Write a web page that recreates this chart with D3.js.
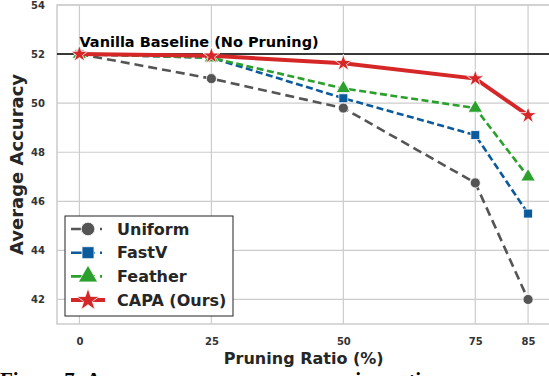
<!DOCTYPE html>
<html>
<head>
<meta charset="utf-8">
<script src="https://cdn.jsdelivr.net/npm/d3@7"></script>
<style>
  body { margin: 0; background: #fff; }
  text { font-family: "DejaVu Sans", sans-serif; }
</style>
</head>
<body>
<div id="chart"></div>
<script>
// Chart data
const ratios = [0, 25, 50, 75, 85];
const uniform = [52.0, 51.0, 49.8, 46.75, 42.0];
const fastv = [52.0, 51.85, 50.2, 48.7, 45.5];
const feather = [52.0, 51.85, 50.6, 49.8, 47.0];
const capa = [52.0, 51.93, 51.63, 51.0, 49.5];
const yTicks = [42, 44, 46, 48, 50, 52, 54];
const baseline = 52;

const series = [
  {name: "Uniform", values: uniform, color: "#555555", dash: "9,5", width: 2.6, marker: d3.symbolCircle, size: 80},
  {name: "FastV", values: fastv, color: "#0a5a9c", dash: "7,3.5", width: 2.6, marker: d3.symbolSquare, size: 80},
  {name: "Feather", values: feather, color: "#2ca02c", dash: "7,3.5", width: 2.6, marker: d3.symbolTriangle, size: 90},
  {name: "CAPA (Ours)", values: capa, color: "#d62728", dash: null, width: 4, marker: d3.symbolStar, size: 90}
];

const W = 549, H = 376;
const margin = {top: 5, right: 0, bottom: 52, left: 57};

const svg = d3.select("#chart").append("svg")
    .attr("width", W)
    .attr("height", H);

const x = d3.scaleLinear().domain([-4.25, 89.25]).range([margin.left, 550.5]);
const y = d3.scaleLinear().domain([41, 54]).range([324, margin.top]);

// grid
svg.append("g").selectAll("line.vg")
   .data(ratios)
   .enter().append("line")
   .attr("x1", d => x(d)).attr("x2", d => x(d))
   .attr("y1", y(54)).attr("y2", y(41))
   .attr("stroke", "#cccccc").attr("stroke-width", 1.2);
svg.append("g").selectAll("line.hg")
   .data(yTicks)
   .enter().append("line")
   .attr("x1", x.range()[0]).attr("x2", x.range()[1])
   .attr("y1", d => y(d)).attr("y2", d => y(d))
   .attr("stroke", "#cccccc").attr("stroke-width", 1.2);

// spines
svg.append("rect")
   .attr("x", x.range()[0]).attr("y", y(54))
   .attr("width", x.range()[1] - x.range()[0])
   .attr("height", y(41) - y(54))
   .attr("fill", "none").attr("stroke", "#cccccc").attr("stroke-width", 1.5);

// axes
const xAxis = svg.append("g")
   .attr("transform", `translate(0,${y(41)})`)
   .call(d3.axisBottom(x).tickValues(ratios).tickSize(0).tickPadding(14));
const yAxis = svg.append("g")
   .attr("transform", `translate(${x.range()[0]},0)`)
   .call(d3.axisLeft(y).tickValues(yTicks).tickSize(0).tickPadding(12));
[xAxis, yAxis].forEach(a => {
  a.select(".domain").remove();
  a.selectAll("text")
   .style("font-family", "DejaVu Sans")
   .style("font-size", "10px")
   .style("font-weight", "bold")
   .attr("fill", "#333");
});

// axis labels
svg.append("text")
   .attr("x", (x.range()[0] + x.range()[1]) / 2)
   .attr("y", 364)
   .attr("text-anchor", "middle")
   .style("font-size", "16px")
   .style("font-weight", "bold")
   .attr("fill", "#262626")
   .text("Pruning Ratio (%)");
svg.append("text")
   .attr("transform", `translate(23,${(y(54) + y(41)) / 2}) rotate(-90)`)
   .attr("text-anchor", "middle")
   .style("font-size", "18px")
   .style("font-weight", "bold")
   .attr("fill", "#262626")
   .text("Average Accuracy");

// baseline
svg.append("line")
   .attr("x1", x.range()[0]).attr("x2", x.range()[1])
   .attr("y1", y(baseline)).attr("y2", y(baseline))
   .attr("stroke", "#000").attr("stroke-width", 1.5);
svg.append("text")
   .attr("x", x(0)).attr("y", y(baseline) - 7)
   .style("font-size", "14.5px")
   .style("font-weight", "bold")
   .attr("fill", "#000")
   .text("Vanilla Baseline (No Pruning)");

// lines
const line = d3.line()
   .x((d, i) => x(ratios[i]))
   .y(d => y(d));

series.forEach(s => {
  svg.append("path")
     .datum(s.values)
     .attr("fill", "none")
     .attr("stroke", s.color)
     .attr("stroke-width", s.width)
     .attr("stroke-dasharray", s.dash)
     .attr("d", line);
  svg.append("g").selectAll("path")
     .data(s.values)
     .enter().append("path")
     .attr("transform", (d, i) => `translate(${x(ratios[i])},${y(d)})`)
     .attr("d", d3.symbol().type(s.marker).size(s.size))
     .attr("fill", s.color)
     .attr("stroke", "#fff")
     .attr("stroke-width", 0.8);
});

// legend
const lg = svg.append("g");
lg.append("rect")
  .attr("x", 65).attr("y", 216)
  .attr("width", 168).attr("height", 100)
  .attr("fill", "#fff").attr("stroke", "#222").attr("stroke-width", 1);
series.forEach((s, i) => {
  const cy = 229 + i * 23.7;
  lg.append("line")
    .attr("x1", 71).attr("x2", 105)
    .attr("y1", cy).attr("y2", cy)
    .attr("stroke", s.color)
    .attr("stroke-width", s.width)
    .attr("stroke-dasharray", s.dash ? "24,5,2,10" : null);
  lg.append("path")
    .attr("transform", `translate(88,${cy})`)
    .attr("d", d3.symbol().type(s.marker).size(s.size * 1.8))
    .attr("fill", s.color)
    .attr("stroke", "#fff")
    .attr("stroke-width", 0.8);
  lg.append("text")
    .attr("x", 117).attr("y", cy + 5.5)
    .style("font-size", "16px")
    .style("font-weight", "bold")
    .attr("fill", "#262626")
    .text(s.name);
});

// caption (cut off at bottom of image)
svg.append("text")
   .attr("x", 0).attr("y", 387)
   .style("font-family", "Liberation Serif, serif")
   .style("font-size", "21px")
   .style("font-weight", "bold")
   .attr("fill", "#000")
   .text("Figure 7: Average accuracy across pruning ratios.");
</script>
</body>
</html>
